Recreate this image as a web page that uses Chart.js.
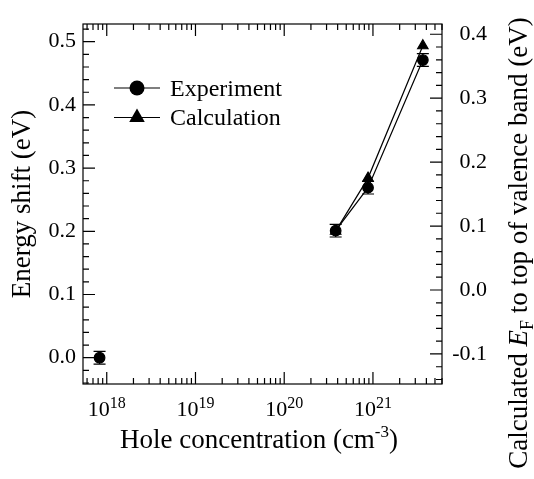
<!DOCTYPE html>
<html>
<head>
<meta charset="utf-8">
<title>Energy shift vs hole concentration</title>
<script src="https://cdn.jsdelivr.net/npm/chart.js@4.4.1/dist/chart.umd.min.js"></script>
<style>
  html, body { margin: 0; padding: 0; background: #fff; }
  #wrap { width: 534px; height: 479px; }
</style>
</head>
<body>
<div id="wrap"><canvas id="chart" width="534" height="479"></canvas></div>
<script>
// Valores
const expConc = [8.3e17, 3.8e20, 8.8e20, 3.65e21]; // cm^-3
const expShift = [0.0, 0.201, 0.269, 0.471]; // eV (eixo esquerdo)
const expErr = [0.01, 0.01, 0.01, 0.01];
const calcConc = [3.8e20, 8.8e20, 3.65e21];
const calcEf = [0.092, 0.175, 0.382]; // eV (eixo direito)

// Rótulos dos eixos
const leftTicks = [0.0, 0.1, 0.2, 0.3, 0.4, 0.5];
const rightTicks = [-0.1, 0.0, 0.1, 0.2, 0.3, 0.4];
const xDecades = [1e18, 1e19, 1e20, 1e21];

const serif = "'Liberation Serif', 'Times New Roman', serif";

// Desenha marcador (círculo ou triângulo) preenchido
function drawMarker(ctx, style, x, y, r) {
  ctx.beginPath();
  if (style === 'triangle') {
    ctx.moveTo(x, y - r);
    ctx.lineTo(x + Math.sin(2 * Math.PI / 3) * r, y + r / 2);
    ctx.lineTo(x - Math.sin(2 * Math.PI / 3) * r, y + r / 2);
    ctx.closePath();
  } else {
    ctx.arc(x, y, r, 0, Math.PI * 2);
  }
  ctx.fill();
}

// Moldura com marcas de escala para dentro
const frameTicks = {
  id: 'frameTicks',
  afterDatasetsDraw(chart) {
    const { ctx, chartArea: a, scales } = chart;
    const major = 12, minor = 6;
    ctx.save();
    ctx.strokeStyle = '#000';
    ctx.lineWidth = 1.2;
    ctx.strokeRect(a.left, a.top, a.right - a.left, a.bottom - a.top);
    ctx.beginPath();
    // eixo x (baixo e cima)
    const xs = scales.x;
    for (let e = Math.floor(Math.log10(xs.min)); e <= Math.ceil(Math.log10(xs.max)); e++) {
      for (let m = 1; m <= 9; m++) {
        const v = m * Math.pow(10, e);
        if (v < xs.min * 0.999 || v > xs.max * 1.001) continue;
        const px = xs.getPixelForValue(v);
        const len = m === 1 ? major : minor;
        ctx.moveTo(px, a.bottom); ctx.lineTo(px, a.bottom - len);
        ctx.moveTo(px, a.top); ctx.lineTo(px, a.top + len);
      }
    }
    // eixos y
    [['y', a.left, 1], ['y2', a.right, -1]].forEach(([id, x0, dir]) => {
      const s = scales[id];
      for (let k = Math.ceil(s.min / 0.02 - 1e-6); k <= Math.floor(s.max / 0.02 + 1e-6); k++) {
        const py = s.getPixelForValue(k * 0.02);
        const len = k % 5 === 0 ? major : minor;
        ctx.moveTo(x0, py); ctx.lineTo(x0 + dir * len, py);
      }
    });
    ctx.stroke();
    ctx.restore();
  }
};

// Barras de erro
const errorBars = {
  id: 'errorBars',
  afterDatasetsDraw(chart) {
    const { ctx } = chart;
    ctx.save();
    ctx.strokeStyle = '#000';
    ctx.lineWidth = 1.2;
    chart.data.datasets.forEach((ds, i) => {
      if (!ds.errors) return;
      const meta = chart.getDatasetMeta(i);
      const ys = chart.scales[ds.yAxisID || 'y'];
      meta.data.forEach((pt, j) => {
        const d = ds.data[j];
        const top = ys.getPixelForValue(d.y + ds.errors[j]);
        const bot = ys.getPixelForValue(d.y - ds.errors[j]);
        ctx.beginPath();
        ctx.moveTo(pt.x, top); ctx.lineTo(pt.x, bot);
        ctx.moveTo(pt.x - 6, top); ctx.lineTo(pt.x + 6, top);
        ctx.moveTo(pt.x - 6, bot); ctx.lineTo(pt.x + 6, bot);
        ctx.stroke();
      });
    });
    ctx.restore();
  }
};

// Rótulos 10^n e títulos com sobrescrito/subscrito
function drawParts(ctx, parts, x, y) {
  let total = 0;
  parts.forEach(p => { ctx.font = p.font; p.w = ctx.measureText(p.t).width; total += p.w; });
  let cx = x - total / 2;
  parts.forEach(p => {
    ctx.font = p.font;
    ctx.fillText(p.t, cx, y + (p.dy || 0));
    cx += p.w;
  });
}

const axisText = {
  id: 'axisText',
  afterDraw(chart) {
    const { ctx, scales } = chart;
    ctx.save();
    ctx.fillStyle = '#000';
    ctx.textBaseline = 'alphabetic';
    ctx.textAlign = 'left';
    xDecades.forEach(v => {
      const px = scales.x.getPixelForValue(v);
      drawParts(ctx, [
        { t: '10', font: `22px ${serif}` },
        { t: String(Math.round(Math.log10(v))), font: `16px ${serif}`, dy: -8 }
      ], px, 416);
    });
    drawParts(ctx, [
      { t: 'Hole concentration (cm', font: `27px ${serif}` },
      { t: '-3', font: `17px ${serif}`, dy: -11 },
      { t: ')', font: `27px ${serif}` }
    ], 259, 448);
    ctx.translate(527, 243);
    ctx.rotate(-Math.PI / 2);
    drawParts(ctx, [
      { t: 'Calculated ', font: `27px ${serif}` },
      { t: 'E', font: `italic 27px ${serif}` },
      { t: 'F', font: `18px ${serif}`, dy: 6 },
      { t: ' to top of valence band (eV)', font: `27px ${serif}` }
    ], 0, 0);
    ctx.restore();
  }
};

// Legenda dentro da área do gráfico
const insetLegend = {
  id: 'insetLegend',
  afterDraw(chart) {
    const { ctx } = chart;
    ctx.save();
    ctx.fillStyle = '#000';
    ctx.strokeStyle = '#000';
    ctx.lineWidth = 1.2;
    ctx.font = `24px ${serif}`;
    ctx.textBaseline = 'alphabetic';
    let row = 0;
    chart.data.datasets.forEach(ds => {
      if (!ds.label) return;
      const y = 88 + row * 29.5;
      ctx.beginPath();
      ctx.moveTo(114, y); ctx.lineTo(160, y);
      ctx.stroke();
      drawMarker(ctx, ds.pointStyle, 137, y, ds.pointStyle === 'triangle' ? 9 : 7.5);
      ctx.fillText(ds.label, 170, y + 7.5);
      row++;
    });
    ctx.restore();
  }
};

new Chart(document.getElementById('chart'), {
  type: 'line',
  data: {
    datasets: [
      {
        label: 'Experiment',
        data: expConc.map((x, i) => ({ x, y: expShift[i] })),
        errors: expErr,
        yAxisID: 'y',
        pointStyle: 'circle',
        pointRadius: 5.3,
        backgroundColor: '#000',
        borderColor: '#000',
        borderWidth: 1.2,
        tension: 0,
        segment: {
          borderColor: (ctx) => (ctx.p0DataIndex === 0 ? 'rgba(0,0,0,0)' : '#000'),
        },
      },
      {
        label: 'Calculation',
        data: calcConc.map((x, i) => ({ x, y: calcEf[i] })),
        yAxisID: 'y2',
        pointStyle: 'triangle',
        pointRadius: 6,
        backgroundColor: '#000',
        borderColor: '#000',
        borderWidth: 1.2,
        tension: 0,
      },
    ],
  },
  options: {
    responsive: false,
    animation: false,
    devicePixelRatio: 1,
    layout: { padding: { top: 24, right: 47, left: 0, bottom: 0 } },
    plugins: { legend: { display: false }, tooltip: { enabled: false } },
    scales: {
      x: {
        type: 'logarithmic',
        position: 'bottom',
        min: 5.4e17,
        max: 6e21,
        grid: { display: false, drawTicks: false },
        border: { display: false },
        ticks: { display: false },
        afterFit: (s) => { s.height = 95; },
      },
      y: {
        type: 'linear',
        position: 'left',
        min: -0.0416,
        max: 0.528,
        grid: { display: false, drawTicks: false },
        border: { display: false },
        afterBuildTicks: (s) => { s.ticks = leftTicks.map((v) => ({ value: v })); },
        ticks: {
          padding: 7,
          color: '#000',
          font: { family: serif, size: 22 },
          callback: (v) => Number(v).toFixed(1),
        },
        title: {
          display: true,
          text: 'Energy shift (eV)',
          color: '#000',
          font: { family: serif, size: 27 },
          padding: { top: 7, bottom: 0 },
        },
        afterFit: (s) => { s.width = 83; },
      },
      y2: {
        type: 'linear',
        position: 'right',
        min: -0.147,
        max: 0.416,
        grid: { display: false, drawTicks: false },
        border: { display: false },
        afterBuildTicks: (s) => { s.ticks = rightTicks.map((v) => ({ value: v })); },
        ticks: {
          crossAlign: 'far',
          color: '#000',
          font: { family: serif, size: 22 },
          callback: (v) => Number(v).toFixed(1),
        },
        afterFit: (s) => { s.width = 45; },
      },
    },
  },
  plugins: [frameTicks, errorBars, axisText, insetLegend],
});
</script>
</body>
</html>
